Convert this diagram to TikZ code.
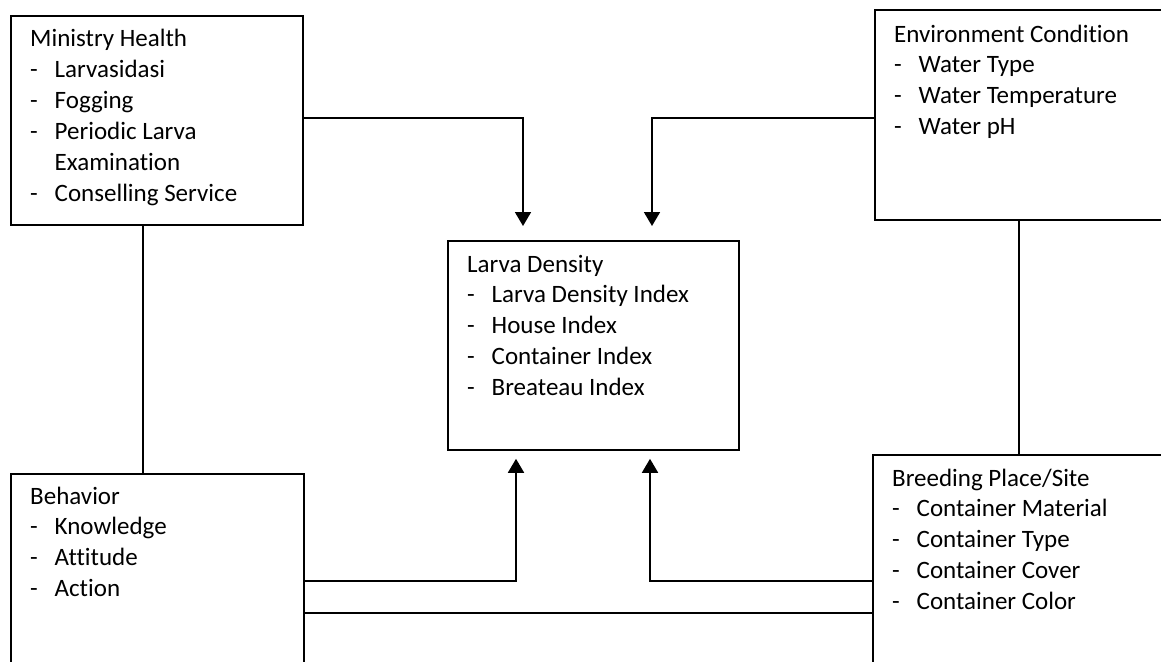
\documentclass[tikz,border=0pt]{standalone}
\usepackage{fontspec}
\setmainfont{Carlito}[Ligatures=NoCommon]
\usetikzlibrary{arrows.meta,calc}
\newcommand{\itm}[1]{\makebox[24.5pt][l]{-}#1}
\newcommand{\ind}[1]{\hspace*{24.5pt}#1}
\begin{document}
\begin{tikzpicture}[x=1pt,y=-1pt,
  box/.style={draw, line width=1.8pt, rectangle, inner sep=0pt, anchor=north west},
  lbl/.style={anchor=base west, inner sep=0pt, font=\fontsize{25}{30.8}\selectfont},
  link/.style={line width=1.8pt},
  arr/.style={line width=1.8pt, -{Triangle[width=16pt,length=14pt]}}]
\useasboundingbox (0,0) rectangle (1161,661);
\clip (0,0) rectangle (1161,661);
\fill[white] (0,0) rectangle (1161,661);
% boxes
\node[box, minimum width=292pt, minimum height=209pt] (mh) at (10,15) {};
\node[box, minimum width=300pt, minimum height=210pt] (env) at (874,9) {};
\node[box, minimum width=291pt, minimum height=209pt] (ld) at (447,240) {};
\node[box, minimum width=293pt, minimum height=240pt] (bh) at (10,473) {};
\node[box, minimum width=302pt, minimum height=260pt] (bp) at (872,454) {};
% texts
\node[lbl] (mh-t) at (30,47) {\begin{tabular}[t]{@{}l@{}}Ministry Health\\ \itm{Larvasidasi}\\ \itm{Fogging}\\ \itm{Periodic Larva}\\ \ind{Examination}\\ \itm{Conselling Service}\end{tabular}};
\node[lbl] (env-t) at (894,42) {\begin{tabular}[t]{@{}l@{}}Environment Condition\\ \itm{Water Type}\\ \itm{Water Temperature}\\ \itm{Water pH}\end{tabular}};
\node[lbl] (ld-t) at (467,272) {\begin{tabular}[t]{@{}l@{}}Larva Density\\ \itm{Larva Density Index}\\ \itm{House Index}\\ \itm{Container Index}\\ \itm{Breateau Index}\end{tabular}};
\node[lbl] (bh-t) at (30,504) {\begin{tabular}[t]{@{}l@{}}Behavior\\ \itm{Knowledge}\\ \itm{Attitude}\\ \itm{Action}\end{tabular}};
\node[lbl] (bp-t) at (892,486) {\begin{tabular}[t]{@{}l@{}}Breeding Place/Site\\ \itm{Container Material}\\ \itm{Container Type}\\ \itm{Container Cover}\\ \itm{Container Color}\end{tabular}};
% arrow tips
\coordinate (t1) at ($(ld.north west)+(76,-14)$);
\coordinate (t2) at ($(ld.north west)+(205,-14)$);
\coordinate (t3) at ($(ld.south west)+(69,8)$);
\coordinate (t4) at ($(ld.south west)+(203,8)$);
% connectors
\draw[arr] ($(mh.north east)+(0,103)$) -| (t1);
\draw[arr] ($(env.north west)+(0,109)$) -| (t2);
\draw[arr] ($(bh.north east)+(0,108)$) -| (t3);
\draw[arr] ($(bp.north west)+(0,127)$) -| (t4);
\draw[link] ($(bh.north east)+(0,140)$) -- ($(bp.north west)+(0,159)$);
\draw[link] ($(mh.south west)+(133,0)$) -- ($(bh.north west)+(133,0)$);
\draw[link] ($(env.south west)+(145,0)$) -- ($(bp.north west)+(147,0)$);
\end{tikzpicture}
\end{document}
